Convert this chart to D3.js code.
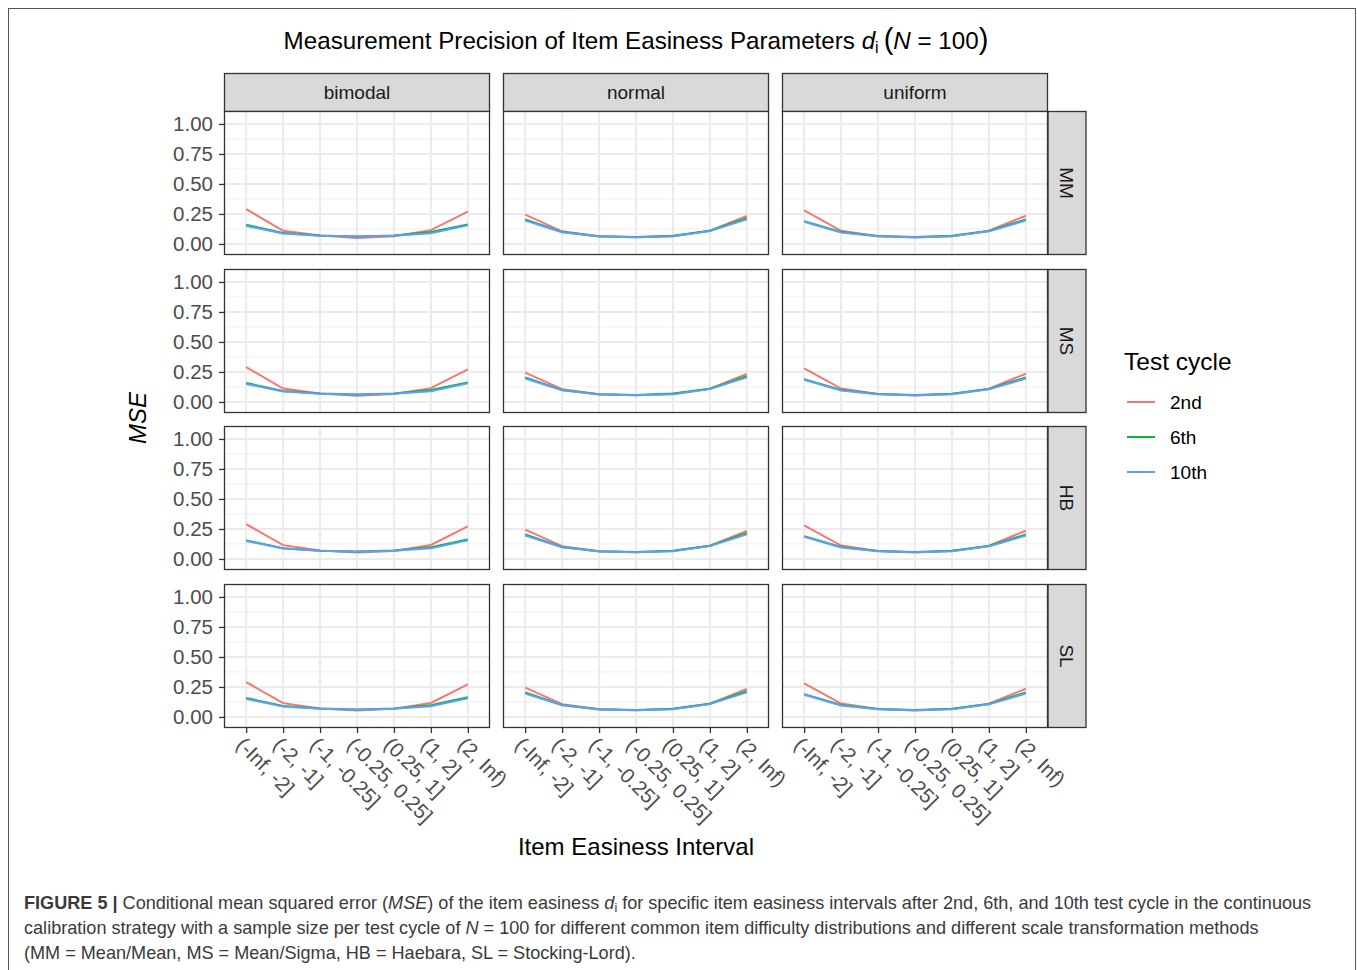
<!DOCTYPE html>
<html>
<head>
<meta charset="utf-8">
<script src="https://cdn.jsdelivr.net/npm/d3@7"></script>
<style>
  body { margin: 0; background: #fff; }
  text { font-family: "Liberation Sans", Arial, sans-serif; }
</style>
</head>
<body>
<div id="chart"></div>
<script>
// categories / facets
var intervals = ["(-Inf, -2]", "(-2, -1]", "(-1, -0.25]", "(-0.25, 0.25]", "(0.25, 1]", "(1, 2]", "(2, Inf)"];
var distributions = ["bimodal", "normal", "uniform"];
var methods = ["MM", "MS", "HB", "SL"];
var cycles = ["2nd", "6th", "10th"];
var cycleColors = ["#F8766D", "#00BA38", "#619CFF"];
var yTicks = [0, 0.25, 0.5, 0.75, 1];

// MSE values, one row per method (MM, MS, HB, SL)
var bimodal2nd = [
  [0.290, 0.110, 0.070, 0.050, 0.065, 0.115, 0.270],
  [0.290, 0.112, 0.070, 0.052, 0.066, 0.115, 0.272],
  [0.290, 0.115, 0.070, 0.053, 0.066, 0.117, 0.272],
  [0.290, 0.115, 0.070, 0.053, 0.068, 0.117, 0.272]];
var bimodal6th = [
  [0.160, 0.092, 0.070, 0.063, 0.070, 0.100, 0.163],
  [0.158, 0.092, 0.070, 0.062, 0.070, 0.100, 0.163],
  [0.155, 0.090, 0.069, 0.062, 0.070, 0.098, 0.163],
  [0.158, 0.091, 0.070, 0.062, 0.070, 0.098, 0.165]];
var bimodal10th = [
  [0.150, 0.087, 0.068, 0.062, 0.068, 0.090, 0.155],
  [0.150, 0.087, 0.068, 0.060, 0.068, 0.090, 0.155],
  [0.150, 0.087, 0.068, 0.060, 0.068, 0.090, 0.155],
  [0.150, 0.087, 0.068, 0.060, 0.068, 0.090, 0.155]];
var normal2nd = [
  [0.245, 0.105, 0.065, 0.055, 0.065, 0.110, 0.233],
  [0.245, 0.107, 0.065, 0.055, 0.066, 0.110, 0.233],
  [0.245, 0.107, 0.065, 0.055, 0.066, 0.110, 0.233],
  [0.245, 0.107, 0.065, 0.055, 0.066, 0.110, 0.233]];
var normal6th = [
  [0.205, 0.100, 0.065, 0.057, 0.068, 0.110, 0.215],
  [0.205, 0.100, 0.065, 0.057, 0.070, 0.110, 0.215],
  [0.205, 0.100, 0.065, 0.057, 0.068, 0.110, 0.215],
  [0.205, 0.100, 0.065, 0.057, 0.068, 0.110, 0.215]];
var normal10th = [
  [0.195, 0.097, 0.063, 0.055, 0.065, 0.107, 0.205],
  [0.195, 0.097, 0.063, 0.055, 0.065, 0.107, 0.205],
  [0.195, 0.097, 0.063, 0.055, 0.065, 0.107, 0.205],
  [0.195, 0.097, 0.063, 0.055, 0.065, 0.107, 0.205]];
var uniform2nd = [
  [0.280, 0.110, 0.065, 0.053, 0.065, 0.110, 0.235],
  [0.280, 0.112, 0.066, 0.054, 0.066, 0.110, 0.235],
  [0.280, 0.112, 0.066, 0.054, 0.066, 0.110, 0.235],
  [0.280, 0.112, 0.066, 0.054, 0.066, 0.110, 0.235]];
var uniform6th = [
  [0.190, 0.100, 0.066, 0.057, 0.068, 0.108, 0.205],
  [0.190, 0.100, 0.066, 0.057, 0.068, 0.108, 0.205],
  [0.190, 0.100, 0.066, 0.057, 0.068, 0.108, 0.205],
  [0.190, 0.100, 0.066, 0.057, 0.068, 0.108, 0.205]];
var uniform10th = [
  [0.185, 0.095, 0.065, 0.055, 0.065, 0.105, 0.195],
  [0.185, 0.095, 0.065, 0.055, 0.065, 0.105, 0.195],
  [0.185, 0.095, 0.065, 0.055, 0.065, 0.105, 0.195],
  [0.185, 0.095, 0.065, 0.055, 0.065, 0.105, 0.195]];

var series = {
  bimodal: [bimodal2nd, bimodal6th, bimodal10th],
  normal:  [normal2nd, normal6th, normal10th],
  uniform: [uniform2nd, uniform6th, uniform10th]
};

var W = 1357, H = 970;
var svg = d3.select("#chart").append("svg").attr("width", W).attr("height", H);

// outer frame
svg.append("rect").attr("x", 8.5).attr("y", 8.5).attr("width", 1347).attr("height", 980)
  .attr("fill", "none").attr("stroke", "#555").attr("stroke-width", 1);

// panel geometry
var colX = [224, 503, 782], panelW = 266;
var rowY = [111, 269, 426, 584], panelH = 144;
var stripTop = 73, stripH = 38, stripR = 38;

var x = d3.scalePoint().domain(intervals).range([0, panelW]).padding(0.6);
var y = d3.scaleLinear().domain([-0.092, 1.108]).range([panelH, 0]);
var line = d3.line().x(function(d, i) { return x(intervals[i]); }).y(function(d) { return y(d); });

// title
var title = svg.append("text").attr("x", 636).attr("y", 49).attr("text-anchor", "middle")
  .attr("font-size", 24.2).attr("fill", "#000");
title.append("tspan").text("Measurement Precision of Item Easiness Parameters ");
title.append("tspan").attr("font-style", "italic").text("d");
title.append("tspan").attr("font-size", 16).attr("dy", 4).text("i");
title.append("tspan").attr("dy", -4).attr("font-size", 29).attr("dx", 5).text("(");
title.append("tspan").attr("font-style", "italic").text("N");
title.append("tspan").text(" = 100");
title.append("tspan").attr("font-size", 29).text(")");

// column strips
distributions.forEach(function(dist, c) {
  var g = svg.append("g").attr("transform", "translate(" + colX[c] + "," + stripTop + ")");
  g.append("rect").attr("x", 0.5).attr("y", 0.5).attr("width", panelW - 1).attr("height", stripH)
    .attr("fill", "#D9D9D9").attr("stroke", "#333").attr("stroke-width", 1.3);
  g.append("text").attr("x", panelW / 2).attr("y", stripH / 2 + 7).attr("text-anchor", "middle")
    .attr("font-size", 19).attr("fill", "#1A1A1A").text(dist);
});

// row strips
methods.forEach(function(m, r) {
  var g = svg.append("g").attr("transform", "translate(" + (colX[2] + panelW) + "," + rowY[r] + ")");
  g.append("rect").attr("x", 0).attr("y", 0.5).attr("width", stripR).attr("height", panelH - 1)
    .attr("fill", "#D9D9D9").attr("stroke", "#333").attr("stroke-width", 1.3);
  g.append("text").attr("transform", "translate(" + (stripR / 2 - 7) + "," + (panelH / 2) + ") rotate(90)")
    .attr("text-anchor", "middle").attr("font-size", 19).attr("fill", "#1A1A1A").text(m);
});

// panels
var minorTicks = [-0.125, 0.125, 0.375, 0.625, 0.875, 1.125].filter(function(v) { return v > -0.092 && v < 1.108; });
methods.forEach(function(m, r) {
  distributions.forEach(function(dist, c) {
    var g = svg.append("g").attr("transform", "translate(" + colX[c] + "," + rowY[r] + ")");
    g.append("rect").attr("width", panelW).attr("height", panelH).attr("fill", "#fff");
    g.selectAll(".minor").data(minorTicks).enter().append("line")
      .attr("x1", 0).attr("x2", panelW).attr("y1", function(d) { return y(d); }).attr("y2", function(d) { return y(d); })
      .attr("stroke", "#F2F2F2").attr("stroke-width", 1.2);
    g.selectAll(".hmaj").data(yTicks).enter().append("line")
      .attr("x1", 0).attr("x2", panelW).attr("y1", function(d) { return y(d); }).attr("y2", function(d) { return y(d); })
      .attr("stroke", "#EBEBEB").attr("stroke-width", 2);
    g.selectAll(".vmaj").data(intervals).enter().append("line")
      .attr("y1", 0).attr("y2", panelH).attr("x1", function(d) { return x(d); }).attr("x2", function(d) { return x(d); })
      .attr("stroke", "#EBEBEB").attr("stroke-width", 2);

    cycles.forEach(function(cy, k) {
      g.append("path").datum(series[dist][k][r]).attr("d", line)
        .attr("fill", "none").attr("stroke", cycleColors[k]).attr("stroke-width", 2);
    });

    g.append("rect").attr("x", 0.5).attr("y", 0.5).attr("width", panelW - 1).attr("height", panelH - 1)
      .attr("fill", "none").attr("stroke", "#333").attr("stroke-width", 1.3);

    // y axis on first column
    if (c === 0) {
      var ya = g.append("g").call(d3.axisLeft(y).tickValues(yTicks).tickFormat(d3.format(".2f")).tickSize(5).tickPadding(6));
      ya.select(".domain").remove();
      ya.selectAll("line").attr("stroke", "#333").attr("stroke-width", 1.3);
      ya.selectAll("text").attr("font-size", 20.5).attr("fill", "#4D4D4D").attr("font-family", "Liberation Sans, Arial, sans-serif");
    }
    // x axis on last row
    if (r === methods.length - 1) {
      var xa = g.append("g").attr("transform", "translate(0," + panelH + ")")
        .call(d3.axisBottom(x).tickSize(5).tickFormat(""));
      xa.select(".domain").remove();
      xa.selectAll("line").attr("stroke", "#333").attr("stroke-width", 1.3);
      g.selectAll(".xl").data(intervals).enter().append("text")
        .attr("transform", function(d) { return "translate(" + (x(d) - 6) + "," + (panelH + 13) + ") rotate(45)"; })
        .attr("dy", "0.35em").attr("text-anchor", "start")
        .attr("font-size", 20.5).attr("fill", "#4D4D4D").text(function(d) { return d; });
    }
  });
});

// axis titles
svg.append("text").attr("transform", "translate(146,418) rotate(-90)").attr("text-anchor", "middle")
  .attr("font-size", 24).attr("font-style", "italic").attr("fill", "#000").text("MSE");
svg.append("text").attr("x", 636).attr("y", 855).attr("text-anchor", "middle")
  .attr("font-size", 24).attr("fill", "#000").text("Item Easiness Interval");

// legend
var lg = svg.append("g").attr("transform", "translate(1124,0)");
lg.append("text").attr("x", 0).attr("y", 370).attr("font-size", 24.5).attr("fill", "#000").text("Test cycle");
cycles.forEach(function(cy, k) {
  var yy = 402 + k * 35;
  lg.append("line").attr("x1", 3).attr("x2", 31).attr("y1", yy).attr("y2", yy)
    .attr("stroke", cycleColors[k]).attr("stroke-width", 2);
  lg.append("text").attr("x", 46).attr("y", yy + 7).attr("font-size", 19).attr("fill", "#000").text(cy);
});

// caption
var cap = svg.append("g").attr("font-size", 18.1).attr("fill", "#3a3a3a");
var l1 = cap.append("text").attr("x", 24).attr("y", 909);
l1.append("tspan").attr("font-weight", "bold").text("FIGURE 5 | ");
l1.append("tspan").text("Conditional mean squared error (");
l1.append("tspan").attr("font-style", "italic").text("MSE");
l1.append("tspan").text(") of the item easiness ");
l1.append("tspan").attr("font-style", "italic").text("d");
l1.append("tspan").attr("font-size", 12.5).attr("dy", 3).text("i");
l1.append("tspan").attr("dy", -3).text(" for specific item easiness intervals after 2nd, 6th, and 10th test cycle in the continuous");
var l2 = cap.append("text").attr("x", 24).attr("y", 934);
l2.append("tspan").text("calibration strategy with a sample size per test cycle of ");
l2.append("tspan").attr("font-style", "italic").text("N");
l2.append("tspan").text(" = 100 for different common item difficulty distributions and different scale transformation methods");
cap.append("text").attr("x", 24).attr("y", 959)
  .text("(MM = Mean/Mean, MS = Mean/Sigma, HB = Haebara, SL = Stocking-Lord).");
</script>
</body>
</html>
